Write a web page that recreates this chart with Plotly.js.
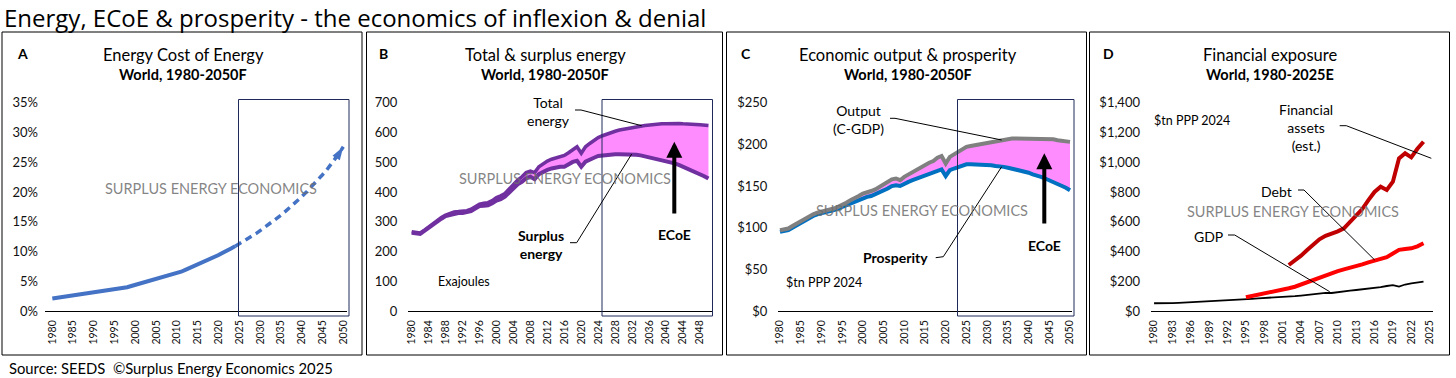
<!DOCTYPE html>
<html><head><meta charset="utf-8">
<script src="https://cdn.plot.ly/plotly-3.0.1.min.js"></script>
<style>html,body{margin:0;padding:0;background:#fff;overflow:hidden}#chart{width:1456px;height:378px}</style>
</head><body><div id="chart"></div>
<script>
// ---------- DATA ----------
// Panel A: Energy Cost of Energy (%), actual 1980-2024, forecast 2024-2050
const ecoeHistStart = 1980;
const ecoeHist = [2.1,2.2,2.3,2.4,2.5,2.6,2.7,2.8,2.9,3.0,
  3.1,3.2,3.3,3.4,3.5,3.6,3.7,3.9,4.0,4.2,
  4.4,4.5,4.7,4.9,5.1,5.3,5.5,5.7,5.9,6.1,
  6.4,6.6,6.9,7.2,7.6,7.9,8.2,8.5,8.8,9.1,
  9.4,9.8,10.1,10.5,10.9];
const ecoeFcstStart = 2024;
const ecoeFcst = [10.9,11.3,11.7,12.1,12.6,13.0,13.5,14.0,14.5,15.0,
  15.5,16.1,16.7,17.3,17.9,18.5,19.2,19.9,20.6,21.3,
  22.1,22.9,23.7,24.6,25.5,26.5,27.6];

// Panel B: Total & surplus energy (EJ), 1980-2050
const energyStart = 1980;
const totalEnergy = [266,265,262,272,283,295,303,314,322,328,
  333,334,335,337,342,350,359,362,364,371,
  381,387,395,410,427,440,451,465,470,465,
  485,496,504,510,515,521,523,532,543,552,
  530,552,563,574,583,589,595,600,604,608,
  611,614,617,619,621,623,625,627,628,629,
  629,630,630,630,629,629,628,627,626,625,
  623];
const surplusEnergy = [263,262,259,269,280,291,300,310,319,323,
  328,329,329,331,336,344,353,354,355,362,
  371,376,384,398,412,426,434,446,451,443,
  460,468,474,479,483,485,485,493,501,505,
  485,502,507,515,521,523,525,526,527,527,
  527,527,526,525,523,520,517,514,511,508,
  504,500,496,491,485,480,474,467,460,453,
  445];

// Panel C: Output (C-GDP) & prosperity ($tn PPP 2024), 1980-2050
const econStart = 1980;
const outputCGDP = [97,98,99,102,105,108,110,113,116,118,
  119,121,122,123,125,127,130,133,135,138,
  141,142,144,146,149,152,155,158,159,157,
  161,164,167,169,172,175,178,180,184,186,
  177,185,188,191,194,197,198,199,200,201,
  202,203,204,205,206,206,207,207,207,207,
  207,207,207,207,206,206,206,205,204,204,
  203];
const prosperity = [95,96,97,100,103,106,108,111,114,116,
  117,119,120,121,123,125,127,130,131,133,
  136,137,138,140,142,145,147,150,151,150,
  153,155,157,159,161,163,165,166,169,170,
  162,169,171,173,175,176,176,176,176,176,
  176,175,174,174,173,172,171,170,169,168,
  166,164,163,161,159,157,155,153,151,148,
  145];

// Panel D: Financial exposure ($tn PPP 2024)
const gdpStart = 1980;
const gdpD = [52,51,51,53,55,57,59,61,63,65,
  67,68,69,71,75,79,82,85,87,89,
  92,94,96,100,104,108,113,118,122,121,
  128,133,137,141,145,149,153,160,168,174,
  164,178,185,191,197];
const debtStart = 1995;
const debtD = [92,100,108,116,124,133,143,153,163,178,
  195,211,228,243,255,268,280,290,300,313,
  327,337,350,362,386,411,416,421,435,455];
const assetsStart = 2002;
const assetsD = [309,338,372,410,450,482,505,518,535,556,
  600,638,685,745,800,835,813,869,1026,1060,
  1033,1090,1138];

// Tick labels
const ticksA = [1980,1985,1990,1995,2000,2005,2010,2015,2020,2025,2030,2035,2040,2045,2050];
const ticksB = [1980,1984,1988,1992,1996,2000,2004,2008,2012,2016,2020,2024,2028,2032,2036,2040,2044,2048];
const ticksC = [1980,1985,1990,1995,2000,2005,2010,2015,2020,2025,2030,2035,2040,2045,2050];
const ticksD = [1980,1983,1986,1989,1992,1995,1998,2001,2004,2007,2010,2013,2016,2019,2022,2025];

// ---------- HELPERS ----------
const yearsFor = (start, arr) => arr.map((_, i) => start + i);
const W = 1456, H = 378;
const px = x => x / W;
const py = y => 1 - y / H;
const F = 'Lato, "Open Sans", sans-serif';
const PINK = '#FF8CFF';

function xax(l, r, range, tickvals, anchor) {
  return {domain:[px(l), px(r)], range, tickvals, tickangle:-90, anchor,
    showline:true, linecolor:'#000', linewidth:1, ticks:'', showgrid:false, zeroline:false,
    tickfont:{family:F, size:10.5, color:'#111'}, ticklabelstandoff:4, fixedrange:true};
}
function yax(range, dtick, anchor, extra) {
  return Object.assign({domain:[py(311), py(102.7)], range, tick0:0, dtick, anchor,
    showline:false, ticks:'', showgrid:false, zeroline:false,
    tickfont:{family:F, size:13, color:'#111'}, fixedrange:true}, extra || {});
}

// ---------- TRACES ----------
const traces = [];
traces.push({x:yearsFor(ecoeHistStart, ecoeHist), y:ecoeHist, xaxis:'x', yaxis:'y', mode:'lines',
  line:{color:'#4472C4', width:4}, hoverinfo:'skip'});
const fcstSizes = ecoeFcst.map((_, i) => i === ecoeFcst.length - 1 ? 14 : 0);
const fcstOp = ecoeFcst.map((_, i) => i === ecoeFcst.length - 1 ? 1 : 0);
traces.push({x:yearsFor(ecoeFcstStart, ecoeFcst), y:ecoeFcst, xaxis:'x', yaxis:'y', mode:'lines+markers',
  line:{color:'#4472C4', width:3.5, dash:'7px,5px'},
  marker:{symbol:'arrow', angleref:'previous', size:fcstSizes, opacity:fcstOp, color:'#4472C4', line:{width:0}},
  hoverinfo:'skip'});

traces.push({x:yearsFor(energyStart, surplusEnergy), y:surplusEnergy, xaxis:'x2', yaxis:'y2', mode:'lines',
  line:{color:'#7030A0', width:4}, hoverinfo:'skip'});
traces.push({x:yearsFor(energyStart, totalEnergy), y:totalEnergy, xaxis:'x2', yaxis:'y2', mode:'lines',
  fill:'tonexty', fillcolor:PINK, line:{color:'#7030A0', width:3.5}, hoverinfo:'skip'});

traces.push({x:yearsFor(econStart, prosperity), y:prosperity, xaxis:'x3', yaxis:'y3', mode:'lines',
  line:{color:'#0070C0', width:4}, hoverinfo:'skip'});
traces.push({x:yearsFor(econStart, outputCGDP), y:outputCGDP, xaxis:'x3', yaxis:'y3', mode:'lines',
  fill:'tonexty', fillcolor:PINK, line:{color:'#808080', width:4}, hoverinfo:'skip'});

traces.push({x:yearsFor(gdpStart, gdpD), y:gdpD, xaxis:'x4', yaxis:'y4', mode:'lines',
  line:{color:'#000', width:1.8}, hoverinfo:'skip'});
traces.push({x:yearsFor(debtStart, debtD), y:debtD, xaxis:'x4', yaxis:'y4', mode:'lines',
  line:{color:'#FF0000', width:4}, hoverinfo:'skip'});
traces.push({x:yearsFor(assetsStart, assetsD), y:assetsD, xaxis:'x4', yaxis:'y4', mode:'lines',
  line:{color:'#C00000', width:4}, hoverinfo:'skip'});

// ---------- SHAPES ----------
const shapes = [];
function rect(x0, y0, x1, y1, color) {
  shapes.push({type:'rect', xref:'paper', yref:'paper', x0:px(x0), x1:px(x1), y0:py(y1), y1:py(y0),
    line:{color, width:1}, fillcolor:'rgba(0,0,0,0)', layer:'above'});
}
function path(pts) {
  const d = pts.map((p, i) => (i ? 'L' : 'M') + px(p[0]) + ',' + py(p[1])).join(' ');
  shapes.push({type:'path', xref:'paper', yref:'paper', path:d, line:{color:'#000', width:1}, layer:'above'});
}
// panel borders
rect(2, 32, 362, 355, '#000');
rect(366.5, 32, 722.5, 355, '#000');
rect(726.5, 32, 1086.5, 355, '#000');
rect(1089.5, 32, 1449.5, 355, '#000');
// forecast boxes
rect(238.5, 99.5, 349, 316, '#1F2A5A');
rect(602, 99.5, 712.5, 316, '#1F2A5A');
rect(957.5, 99.5, 1074, 316, '#1F2A5A');
// leader lines
path([[575,110],[581,110],[641.7,125.7]]);
path([[570,242.7],[576.7,242.7],[631.7,154]]);
path([[890,118.3],[895,118.3],[1001.7,140]]);
path([[935.7,257.7],[943.3,256.7],[1001.7,166.7]]);
path([[1339.7,125.7],[1346.3,125.7],[1431.3,158.3]]);
path([[1298,190],[1304,190],[1374.7,260]]);
path([[1228,235],[1234.7,235],[1329.7,291.7]]);

// ---------- ANNOTATIONS ----------
const ann = [];
function txt(x, y, text, size, opts) {
  ann.push(Object.assign({xref:'paper', yref:'paper', x:px(x), y:py(y), text, showarrow:false,
    xanchor:'center', yanchor:'middle', font:{family:F, size, color:'#000'}}, opts || {}));
}
ann.push({xref:'paper', yref:'paper', x:px(3), y:1, xanchor:'left', yanchor:'top', showarrow:false,
  borderpad:0, text:'Energy, ECoE &amp; prosperity - the economics of inflexion &amp; denial',
  font:{family:'"Open Sans", Lato, sans-serif', size:24, color:'#000'}});
txt(7, 368, 'Source: SEEDS  ©Surplus Energy Economics 2025', 14.8, {xanchor:'left'});

const panels = [
  {L:22, cx:183, t:'Energy Cost of Energy', s:'World, 1980-2050F', letter:'A'},
  {L:383, cx:545, t:'Total &amp; surplus energy', s:'World, 1980-2050F', letter:'B'},
  {L:746, cx:908, t:'Economic output &amp; prosperity', s:'World, 1980-2050F', letter:'C'},
  {L:1108, cx:1270, t:'Financial exposure', s:'World, 1980-2025E', letter:'D'}
];
panels.forEach(p => {
  txt(p.L, 54, '<b>' + p.letter + '</b>', 14);
  txt(p.cx, 55, p.t, 16.5);
  txt(p.cx, 75, '<b>' + p.s + '</b>', 14.5);
});
// watermarks
[[211,188.3],[565,179],[921.7,210],[1293,211]].forEach(c =>
  txt(c[0], c[1], 'SURPLUS ENERGY ECONOMICS', 14.5, {font:{family:F, size:14.5, color:'rgba(110,110,110,0.85)'}}));

// Panel B labels
txt(548, 111, 'Total<br>energy', 14);
txt(541, 244, '<b>Surplus<br>energy</b>', 14);
txt(674.3, 234, '<b>ECoE</b>', 14);
txt(464, 281, 'Exajoules', 12.5);
// Panel C labels
txt(858.3, 119.5, 'Output<br>(C-GDP)', 14);
txt(895.7, 257.7, '<b>Prosperity</b>', 14);
txt(1044.3, 245, '<b>ECoE</b>', 14);
txt(824, 282.3, '$tn PPP 2024', 12.5);
// Panel D labels
txt(1306.3, 127.5, 'Financial<br>assets<br>(est.)', 14);
txt(1276.3, 191.7, 'Debt', 14);
txt(1208.7, 236.7, 'GDP', 14);
txt(1192, 120.7, '$tn PPP 2024', 12.5);

// ECoE arrows
function upArrow(x, yTip, yTail) {
  ann.push({xref:'paper', yref:'paper', x:px(x), y:py(yTip), ax:0, ay:yTail - yTip, text:'',
    showarrow:true, arrowhead:2, arrowsize:0.8, arrowwidth:4, arrowcolor:'#000'});
}
upArrow(674.3, 141.7, 215);
upArrow(1044.3, 153.3, 225);

// ---------- LAYOUT ----------
const layout = {
  width:W, height:H, margin:{l:0, r:0, t:0, b:0}, paper_bgcolor:'#fff', plot_bgcolor:'rgba(0,0,0,0)',
  showlegend:false, font:{family:F, color:'#000'},
  xaxis: xax(45, 347, [1978.24, 2050.89], ticksA, 'y'),
  yaxis: yax([0, 35], 5, 'x', {ticksuffix:'%', ticklabelstandoff:6}),
  xaxis2: xax(408.3, 712.7, [1979.2, 2051.0], ticksB, 'y2'),
  yaxis2: yax([0, 700], 100, 'x2', {ticklabelstandoff:10}),
  xaxis3: xax(778.3, 1071.7, [1979.59, 2050.41], ticksC, 'y3'),
  yaxis3: yax([0, 250], 50, 'x3', {tickprefix:'$', ticklabelstandoff:10}),
  xaxis4: xax(1151, 1432.7, [1979.5, 2025.5], ticksD, 'y4'),
  yaxis4: yax([0, 1400], 200, 'x4', {tickprefix:'$', tickformat:',', ticklabelstandoff:10}),
  shapes, annotations:ann
};
Plotly.newPlot('chart', traces, layout, {staticPlot:true, displayModeBar:false});
</script>
</body></html>
